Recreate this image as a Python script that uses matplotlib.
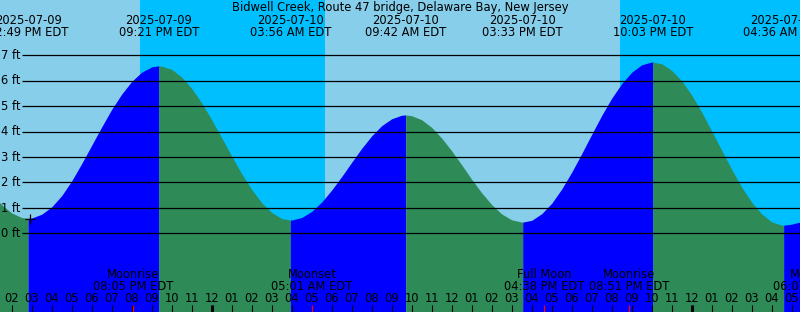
import numpy as np
import matplotlib
matplotlib.use("Agg")
import matplotlib.pyplot as plt
from matplotlib.transforms import blended_transform_factory, offset_copy

# time axis: hours after 2025-07-10 00:00 EDT
t_start, t_end = -10.585, 29.415
ft_bottom, ft_top = -3.092, 9.167

title = "Bidwell Creek, Route 47 bridge, Delaware Bay, New Jersey"

# tide height (hours, ft)
tide_hours = [-11, -10.5, -10, -9.5, -9.183, -9, -8.5, -8, -7.5, -7, -6.5, -6, -5.5, -5,
              -4.5, -4, -3.5, -3, -2.65, -2.5, -2, -1.5, -1, -0.5, 0, 0.5, 1, 1.5, 2,
              2.5, 3, 3.5, 3.933, 4, 4.5, 5, 5.5, 6, 6.5, 7, 7.5, 8, 8.5, 9, 9.5, 9.7,
              10, 10.5, 11, 11.5, 12, 12.5, 13, 13.5, 14, 14.5, 15, 15.5, 15.55, 16,
              16.5, 17, 17.5, 18, 18.5, 19, 19.5, 20, 20.5, 21, 21.5, 22, 22.05, 22.5,
              23, 23.5, 24, 24.5, 25, 25.5, 26, 26.5, 27, 27.5, 28, 28.5, 28.6, 29, 29.5]
tide_ft = [1.57, 1.12, 0.80, 0.62, 0.59, 0.60, 0.75, 1.04, 1.48, 2.06, 2.74, 3.46, 4.18, 4.87,
           5.47, 5.97, 6.33, 6.54, 6.58, 6.57, 6.44, 6.14, 5.69, 5.12, 4.46, 3.75, 3.03, 2.34, 1.72,
           1.20, 0.82, 0.58, 0.52, 0.52, 0.62, 0.86, 1.23, 1.70, 2.23, 2.79, 3.34, 3.83, 4.23, 4.50, 4.64, 4.65,
           4.62, 4.46, 4.16, 3.74, 3.24, 2.69, 2.12, 1.59, 1.13, 0.76, 0.53, 0.44, 0.44, 0.51,
           0.77, 1.18, 1.74, 2.40, 3.13, 3.89, 4.63, 5.31, 5.88, 6.33, 6.62, 6.73, 6.73, 6.66,
           6.40, 5.99, 5.43, 4.76, 4.02, 3.26, 2.51, 1.81, 1.22, 0.76, 0.45, 0.32, 0.32, 0.36, 0.46]

# high / low tides (first one is a low)
event_hours = [-9.183, -2.65, 3.933, 9.7, 15.55, 22.05, 28.6]
event_dates = ["2025-07-09", "2025-07-09", "2025-07-10", "2025-07-10",
               "2025-07-10", "2025-07-10", "2025-07-11"]
event_times = ["02:49 PM EDT", "09:21 PM EDT", "03:56 AM EDT", "09:42 AM EDT",
               "03:33 PM EDT", "10:03 PM EDT", "04:36 AM EDT"]

# sunset -> sunrise
night_start = [-3.583, 20.417]
night_end = [5.667, 31.0]

moon_hours = [-3.917, 5.017, 16.633, 20.85, 30.117]
moon_names = ["Moonrise", "Moonset", "Full Moon", "Moonrise", "Moonset"]
moon_times = ["08:05 PM EDT", "05:01 AM EDT", "04:38 PM EDT", "08:51 PM EDT", "06:07 AM EDT"]

hour_ticks = list(range(-10, 30))
hour_labels = ("02 03 04 05 06 07 08 09 10 11 12 01 02 03 04 05 06 07 08 09 "
               "10 11 12 01 02 03 04 05 06 07 08 09 10 11 12 01 02 03 04 05").split()
midnights = [0, 24]

ft_levels = [0, 1, 2, 3, 4, 5, 6, 7]
now_hour, now_ft = -9.085, 0.57

DAY, NIGHT = "#87CEEB", "#00BFFF"
RISING, FALLING = "#0000FF", "#2E8B57"
H = 312.0
FS = 8.3


def ypx(p):
    # pixel row from top -> axes fraction
    return 1 - p / H


fig = plt.figure(figsize=(8, 3.12), dpi=100)
ax = fig.add_axes([0, 0, 1, 1])
ax.set_xlim(t_start, t_end)
ax.set_ylim(ft_bottom, ft_top)
ax.axis("off")
ax.add_patch(plt.Rectangle((0, 0), 1, 1, transform=ax.transAxes, color=DAY, zorder=0))
for a, b in zip(night_start, night_end):
    ax.axvspan(a, b, color=NIGHT, lw=0, zorder=0.5)

t = np.array(tide_hours)
h = np.array(tide_ft)
bounds = [-np.inf] + event_hours + [np.inf]
for k in range(len(bounds) - 1):
    m = (t >= bounds[k]) & (t <= bounds[k + 1])
    ax.fill_between(t, h, ft_bottom - 1, where=m, color=RISING if k % 2 else FALLING,
                    lw=0, antialiased=False, zorder=1)

ax.hlines(ft_levels, t_start + 22 / 20, t_end, color="black", lw=0.9, zorder=2)
ylab_tr = offset_copy(blended_transform_factory(ax.transAxes, ax.transData), fig=fig,
                      y=-3.7, units="dots")
for f in ft_levels:
    ax.text(20.5 / 800, f, f"{f} ft", transform=ylab_tr, ha="right", va="baseline",
            fontsize=FS, zorder=3)

ax.plot(now_hour, now_ft, marker="+", ms=7, mew=0.9, color="black", zorder=3)

xt = blended_transform_factory(ax.transData, ax.transAxes)
ax.text(0.5, ypx(11), title, transform=ax.transAxes, ha="center", va="baseline", fontsize=FS)
for x, d, s in zip(event_hours, event_dates, event_times):
    ax.text(x, ypx(24), d, transform=xt, ha="center", va="baseline", fontsize=FS)
    ax.text(x, ypx(36), s, transform=xt, ha="center", va="baseline", fontsize=FS)

for x, n, s in zip(moon_hours, moon_names, moon_times):
    ax.text(x, ypx(278), n, transform=xt, ha="center", va="baseline", fontsize=FS, zorder=3)
    ax.text(x, ypx(290), s, transform=xt, ha="center", va="baseline", fontsize=FS, zorder=3)

for x, lab in zip(hour_ticks, hour_labels):
    ax.text(x, ypx(302), lab, transform=xt, ha="center", va="baseline", fontsize=FS, zorder=3)
ax.vlines(hour_ticks, 0, 7 / H, transform=xt, color="black", lw=0.8, zorder=3)
ax.vlines(midnights, 0, 7 / H, transform=xt, color="black", lw=2.2, zorder=3)
ax.vlines(moon_hours, 0, 7 / H, transform=xt, color="red", lw=0.9, zorder=3)

fig.savefig("out.png", dpi=100)
